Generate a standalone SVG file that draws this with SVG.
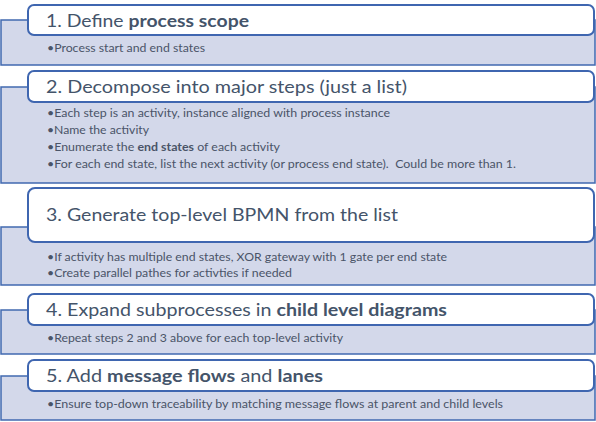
<svg xmlns="http://www.w3.org/2000/svg" width="596" height="422" viewBox="0 0 596 422">
<style>
.bg{fill:#D3D8EA;stroke:#4169B0;stroke-width:1.5}
.hd{fill:#FFFFFF;stroke:#3F66B0;stroke-width:2}
.ht{font-family:Lato,"Open Sans","Liberation Sans",sans-serif;font-size:17.5px;fill:#44546A}
.bt{font-family:Lato,"Open Sans","Liberation Sans",sans-serif;font-size:10.5px;fill:#4A5468}
.b{font-weight:bold}
</style>
<rect width="596" height="422" fill="#FFFFFF"/>
<g id="step1">
<rect class="bg" x="1" y="20" width="594" height="45"/>
<rect class="hd" x="28" y="5" width="566" height="30" rx="6"/>
<text class="ht" x="46" y="26.5" textLength="203" lengthAdjust="spacingAndGlyphs">1. Define <tspan class="b">process scope</tspan></text>
<text class="bt" x="47" y="52" textLength="158" lengthAdjust="spacingAndGlyphs">•Process start and end states</text>
</g>
<g id="step2">
<rect class="bg" x="1" y="87" width="594" height="96"/>
<rect class="hd" x="28" y="71" width="566" height="31" rx="6"/>
<text class="ht" x="46" y="92.5" textLength="361" lengthAdjust="spacingAndGlyphs">2. Decompose into major steps (just a list)</text>
<text class="bt" x="47" y="117" textLength="343" lengthAdjust="spacingAndGlyphs">•Each step is an activity, instance aligned with process instance</text>
<text class="bt" x="47" y="134" textLength="102" lengthAdjust="spacingAndGlyphs">•Name the activity</text>
<text class="bt" x="47" y="151" textLength="233" lengthAdjust="spacingAndGlyphs">•Enumerate the <tspan class="b">end states</tspan> of each activity</text>
<text class="bt" x="47" y="168" textLength="469" lengthAdjust="spacingAndGlyphs" xml:space="preserve">•For each end state, list the next activity (or process end state).  Could be more than 1.</text>
</g>
<g id="step3">
<rect class="bg" x="1" y="227" width="594" height="58"/>
<rect class="hd" x="28" y="188" width="566" height="54" rx="7"/>
<text class="ht" x="46" y="221" textLength="352" lengthAdjust="spacingAndGlyphs">3. Generate top-level BPMN from the list</text>
<text class="bt" x="47" y="261" textLength="400" lengthAdjust="spacingAndGlyphs">•If activity has multiple end states, XOR gateway with 1 gate per end state</text>
<text class="bt" x="47" y="277" textLength="245" lengthAdjust="spacingAndGlyphs">•Create parallel pathes for activties if needed</text>
</g>
<g id="step4">
<rect class="bg" x="1" y="310" width="594" height="44"/>
<rect class="hd" x="28" y="294" width="566" height="31" rx="6"/>
<text class="ht" x="46" y="315.5" textLength="401" lengthAdjust="spacingAndGlyphs">4. Expand subprocesses in <tspan class="b">child level diagrams</tspan></text>
<text class="bt" x="47" y="342" textLength="296" lengthAdjust="spacingAndGlyphs">•Repeat steps 2 and 3 above for each top-level activity</text>
</g>
<g id="step5">
<rect class="bg" x="1" y="376" width="594" height="44"/>
<rect class="hd" x="28" y="360" width="566" height="31" rx="6"/>
<text class="ht" x="46" y="381.5" textLength="277" lengthAdjust="spacingAndGlyphs">5. Add <tspan class="b">message flows</tspan> and <tspan class="b">lanes</tspan></text>
<text class="bt" x="47" y="408" textLength="456" lengthAdjust="spacingAndGlyphs">•Ensure top-down traceability by matching message flows at parent and child levels</text>
</g>
<g id="connectors"/>
</svg>
